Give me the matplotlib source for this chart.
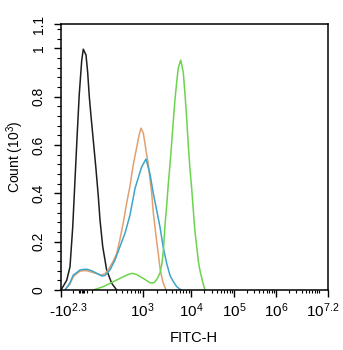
import numpy as np
import matplotlib
matplotlib.use("Agg")
import matplotlib.pyplot as plt
from matplotlib.transforms import ScaledTranslation

plt.rcParams['font.family'] = ['Liberation Sans', 'DejaVu Sans']
plt.rcParams['mathtext.fontset'] = 'custom'
plt.rcParams['mathtext.rm'] = 'Liberation Sans'
plt.rcParams['mathtext.it'] = 'Liberation Sans:italic'
plt.rcParams['mathtext.bf'] = 'Liberation Sans:bold'

# ---------------- data (FITC-H intensity, count in 10^3) ----------------
black_x = [-200, -47.4, -20.6, -10.3, -5.7, -3.0, -1.5, -0.15, 1.27, 6.15, 13.7,
           28.8, 63, 106, 120, 133, 144, 163, 195, 245, 308]
black_y = [0, 0.04, 0.096, 0.26, 0.455, 0.65, 0.81, 0.95, 0.997, 0.973, 0.90,
           0.80, 0.72, 0.62, 0.50, 0.39, 0.29, 0.18, 0.083, 0.028, 0]

orange_x = [-72.8, -20.6, -8.9, -3.5, -1.05, 1.27, 8.6, 87, 124, 156, 181, 210, 264,
            308, 358, 417, 486, 565, 658, 767, 853, 934, 1039, 1221, 1318, 1428,
            1549, 1670, 1811, 1963, 2118, 2297, 2489, 2686, 3055]
orange_y = [0, 0.025, 0.055, 0.068, 0.078, 0.08, 0.08, 0.074, 0.068, 0.062, 0.068,
            0.083, 0.12, 0.15, 0.21, 0.28, 0.36, 0.43, 0.52, 0.59, 0.64, 0.67, 0.65,
            0.56, 0.52, 0.46, 0.40, 0.32, 0.26, 0.20, 0.15, 0.09, 0.055, 0.028, 0]

blue_x = [-72.8, -20.6, -8.9, -3.5, -1.05, 1.27, 8.6, 87, 124, 156, 181, 227, 285,
          358, 450, 565, 710, 826, 964, 1126, 1181, 1428, 1670, 1963, 2297, 2686,
          3155, 3690, 4315, 5070, 6220]
blue_y = [0, 0.03, 0.062, 0.072, 0.083, 0.085, 0.086, 0.08, 0.069, 0.058, 0.06,
          0.083, 0.124, 0.18, 0.235, 0.31, 0.42, 0.465, 0.51, 0.535, 0.542, 0.48,
          0.40, 0.33, 0.26, 0.175, 0.11, 0.06, 0.035, 0.014, 0]

green_x = [106, 168, 264, 417, 516, 620, 767, 1039, 1428, 1727, 1991, 2297, 2523,
           2710, 2912, 3155, 3405, 3690, 4000, 4315, 4677, 5070, 5470, 6140, 6940,
           7520, 8150, 8790, 9525, 10380, 11310, 12390, 13570, 14790, 16190, 17740,
           19540, 21190]
green_y = [0, 0.014, 0.034, 0.055, 0.064, 0.069, 0.064, 0.048, 0.03, 0.03, 0.045,
           0.07, 0.11, 0.17, 0.27, 0.35, 0.44, 0.52, 0.61, 0.70, 0.79, 0.86, 0.92,
           0.952, 0.90, 0.81, 0.71, 0.60, 0.50, 0.42, 0.33, 0.24, 0.18, 0.12, 0.08,
           0.05, 0.02, 0]

x_major = [-10**2.3, 1e3, 1e4, 1e5, 1e6, 10**7.2]
x_major_labels = [r'-10$^{2.3}$', r'10$^{3}$', r'10$^{4}$', r'10$^{5}$', r'10$^{6}$', r'10$^{7.2}$']
y_major = [0, 0.2, 0.4, 0.6, 0.8, 1.0, 1.1]
y_major_labels = ['0', '0.2', '0.4', '0.6', '0.8', '1', '1.1']

# ---------------- logicle-like display scale ----------------
G_ANCH = np.array([-2.3, 0.0, 2.0, 3.0, 4.0, 5.0, 6.0, 7.2])
P_ANCH = np.array([0.0, 21.0, 31.0, 81.5, 130.0, 173.0, 215.0, 266.5])
LN10 = np.log(10.0)


def fwd(x):
    x = np.asarray(x, dtype=float)
    g = np.arcsinh(x / 2.0) / LN10
    return np.interp(g, G_ANCH, P_ANCH)


def inv(p):
    p = np.asarray(p, dtype=float)
    g = np.interp(p, P_ANCH, G_ANCH)
    return 2.0 * np.sinh(g * LN10)


fig = plt.figure(figsize=(3.43, 3.5), dpi=100)
ax = fig.add_axes([61 / 343, 1 - 290 / 350, (327.5 - 61) / 343, (290 - 24.3) / 350])
ax.set_xscale('function', functions=(fwd, inv))

lw = 1.1
ax.plot(black_x, black_y, color='#1e1e1e', lw=lw)
ax.plot(orange_x, orange_y, color='#E2A070', lw=lw)
ax.plot(blue_x, blue_y, color='#3DA5C8', lw=lw)
ax.plot(green_x, green_y, color='#6CD44C', lw=lw)

ax.set_xlim(-10**2.3, 10**7.2)
ax.set_ylim(0, 1.1)

# x ticks
ax.set_xticks(x_major)
ax.set_xticklabels(x_major_labels, fontsize=11)
minor = [-10, -2, -1, 0, 1, 2, 10, 100]
for k in range(2, 7):
    minor += [m * 10**k for m in range(2, 10)]
minor += [1e7]
ax.set_xticks(minor, minor=True)
ax.tick_params(axis='x', which='major', direction='out', length=5, width=1, pad=3)
ax.tick_params(axis='x', which='minor', direction='out', length=2.5, width=0.8)

# y ticks
ax.set_yticks(y_major)
ax.set_yticklabels(y_major_labels, fontsize=10, rotation=90, va='center')
ax.set_yticks(np.arange(0.04, 1.09, 0.04), minor=True)
ax.tick_params(axis='y', which='major', direction='out', length=5, width=1, pad=6)
ax.tick_params(axis='y', which='minor', direction='out', length=3, width=0.8)

for s in ax.spines.values():
    s.set_linewidth(1.1)
    s.set_color('black')

# shift end labels like the reference
labs = ax.get_xticklabels()
labs[0].set_transform(labs[0].get_transform() + ScaledTranslation(7.5 / 100, 0, fig.dpi_scale_trans))
labs[-1].set_transform(labs[-1].get_transform() + ScaledTranslation(-5 / 100, 0, fig.dpi_scale_trans))

ax.set_xlabel('FITC-H', fontsize=10.5, labelpad=8)
ax.set_ylabel(r'Count (10$^{3}$)', fontsize=10, labelpad=4)

fig.savefig('out.png', dpi=100)
